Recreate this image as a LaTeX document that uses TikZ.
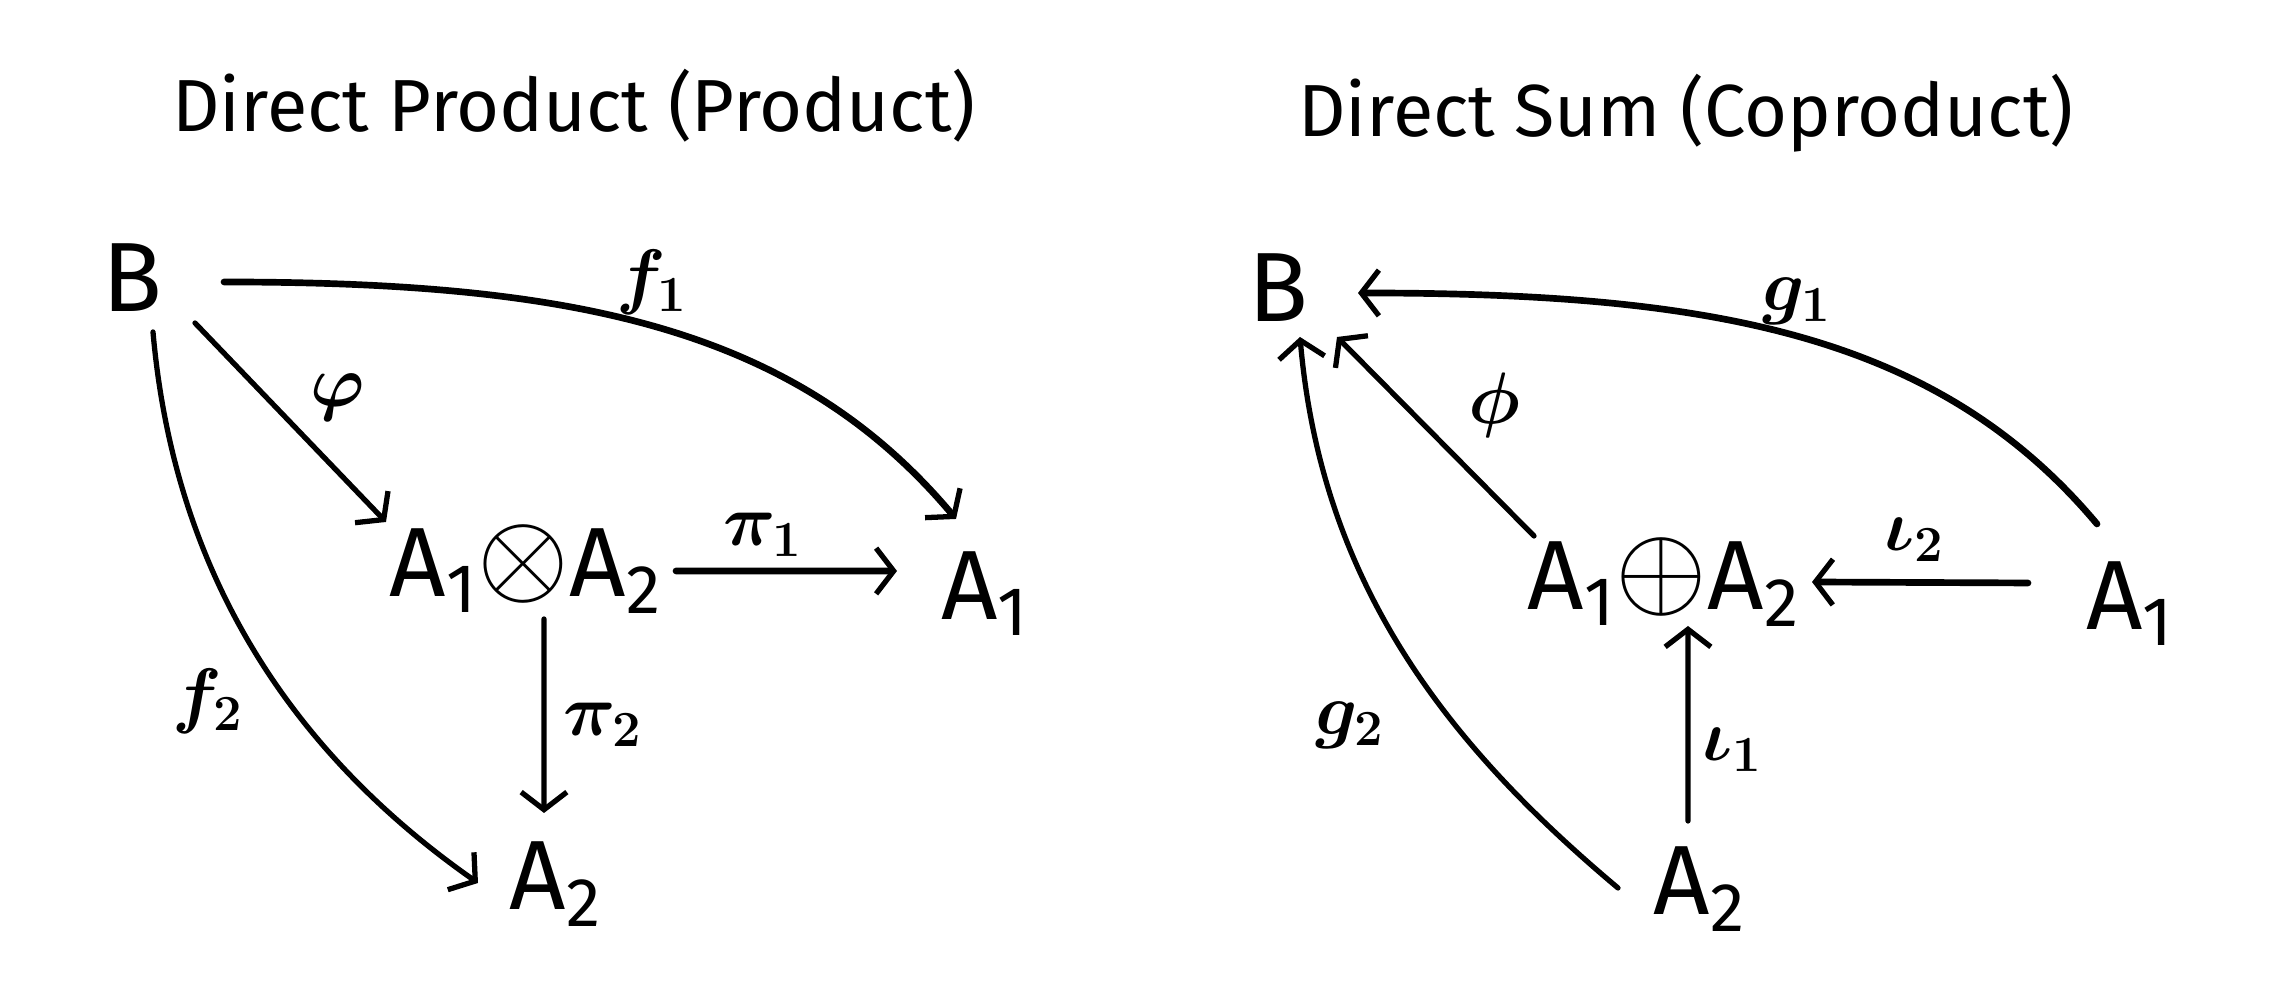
\documentclass[tikz,border=0pt]{standalone}
\usepackage{fontspec}
\usepackage{graphicx}
\setmainfont{Fira Sans}
\usetikzlibrary{arrows.meta}
\newcommand{\opx}[1]{{\fontsize{24.88}{26}\selectfont\raisebox{0.03cm}{\scalebox{1.35}{$#1$}}}}
\begin{document}
\begin{tikzpicture}[
  obj/.style={font=\fontsize{28}{30}\selectfont, inner sep=0pt, anchor=base},
  lab/.style={font=\fontsize{22}{24}\selectfont\boldmath, inner sep=0pt},
  ttl/.style={font=\fontsize{21}{24}\selectfont, inner sep=0pt, anchor=base},
  arr/.style={line width=1.5pt, line cap=round, -{Straight Barb[length=5pt,width=13pt,line width=1.5pt]}},
  thk/.style={line width=1.9pt},
]
\useasboundingbox[fill=white] (0,0) rectangle (22.91,10);

% ---------- Direct Product ----------
\node[ttl] (t1) at (5.74,8.68) {Direct Product (Product)};
\node[obj] (B1) at (1.32,6.88) {B};
\node[obj] (P) at (5.26,4.03) {A\textsubscript{1}\opx{\otimes}A\textsubscript{2}};
\node[obj] (A1l) at (9.85,3.80) {A\textsubscript{1}};
\node[obj] (A2l) at (5.56,0.90) {A\textsubscript{2}};

\draw[arr,thk] ([shift={(0.92,0.30)}]B1.base) to[out=0,in=130,out distance=3.5cm,in distance=2.5cm] ([shift={(-0.29,1.01)}]A1l.base);
\draw[arr] ([shift={(0.63,-0.11)}]B1.base) -- ([shift={(-1.40,0.75)}]P.base);
\draw[arr,thk] ([shift={(1.50,0.26)}]P.base) -- ([shift={(-0.88,0.49)}]A1l.base);
\draw[arr] ([shift={(0.18,-0.22)}]P.base) -- ([shift={(-0.12,0.97)}]A2l.base);
\draw[arr] ([shift={(0.21,-0.20)}]B1.base) to[out=-85,in=145,out distance=2.5cm,in distance=2.2cm] ([shift={(-0.78,0.27)}]A2l.base);

\node[lab] (lf1) at (6.52,7.18) {$f_1$};
\node[lab] (lphi) at (3.38,6.03) {$\varphi$};
\node[lab] (lpi1) at (7.63,4.65) {$\pi_1$};
\node[lab] (lpi2) at (6.03,2.75) {$\pi_2$};
\node[lab] (lf2) at (2.08,2.99) {$f_2$};

% ---------- Direct Sum ----------
\node[ttl] (t2) at (16.86,8.63) {Direct Sum (Coproduct)};
\node[obj] (B2) at (12.78,6.78) {B};
\node[obj] (S) at (16.64,3.90) {A\textsubscript{1}\opx{\oplus}A\textsubscript{2}};
\node[obj] (A1r) at (21.30,3.70) {A\textsubscript{1}};
\node[obj] (A2r) at (17.00,0.85) {A\textsubscript{2}};

\draw[arr,thk] ([shift={(-0.33,1.06)}]A1r.base) to[out=130,in=0,out distance=2.5cm,in distance=3.5cm] ([shift={(0.80,0.29)}]B2.base);
\draw[arr] ([shift={(-1.30,0.74)}]S.base) -- ([shift={(0.59,-0.15)}]B2.base);
\draw[arr,thk] ([shift={(-1.02,0.47)}]A1r.base) -- ([shift={(1.48,0.28)}]S.base);
\draw[arr] ([shift={(-0.12,0.94)}]A2r.base) -- ([shift={(0.24,-0.16)}]S.base);
\draw[arr] ([shift={(-0.82,0.27)}]A2r.base) to[out=140,in=-85,out distance=2.2cm,in distance=2.5cm] ([shift={(0.22,-0.15)}]B2.base);

\node[lab] (lg1) at (17.97,6.99) {$g_1$};
\node[lab] (lphi2) at (14.94,5.95) {$\phi$};
\node[lab] (li2) at (19.15,4.60) {$\iota_2$};
\node[lab] (li1) at (17.33,2.50) {$\iota_1$};
\node[lab] (lg2) at (13.50,2.75) {$g_2$};
\end{tikzpicture}
\end{document}
